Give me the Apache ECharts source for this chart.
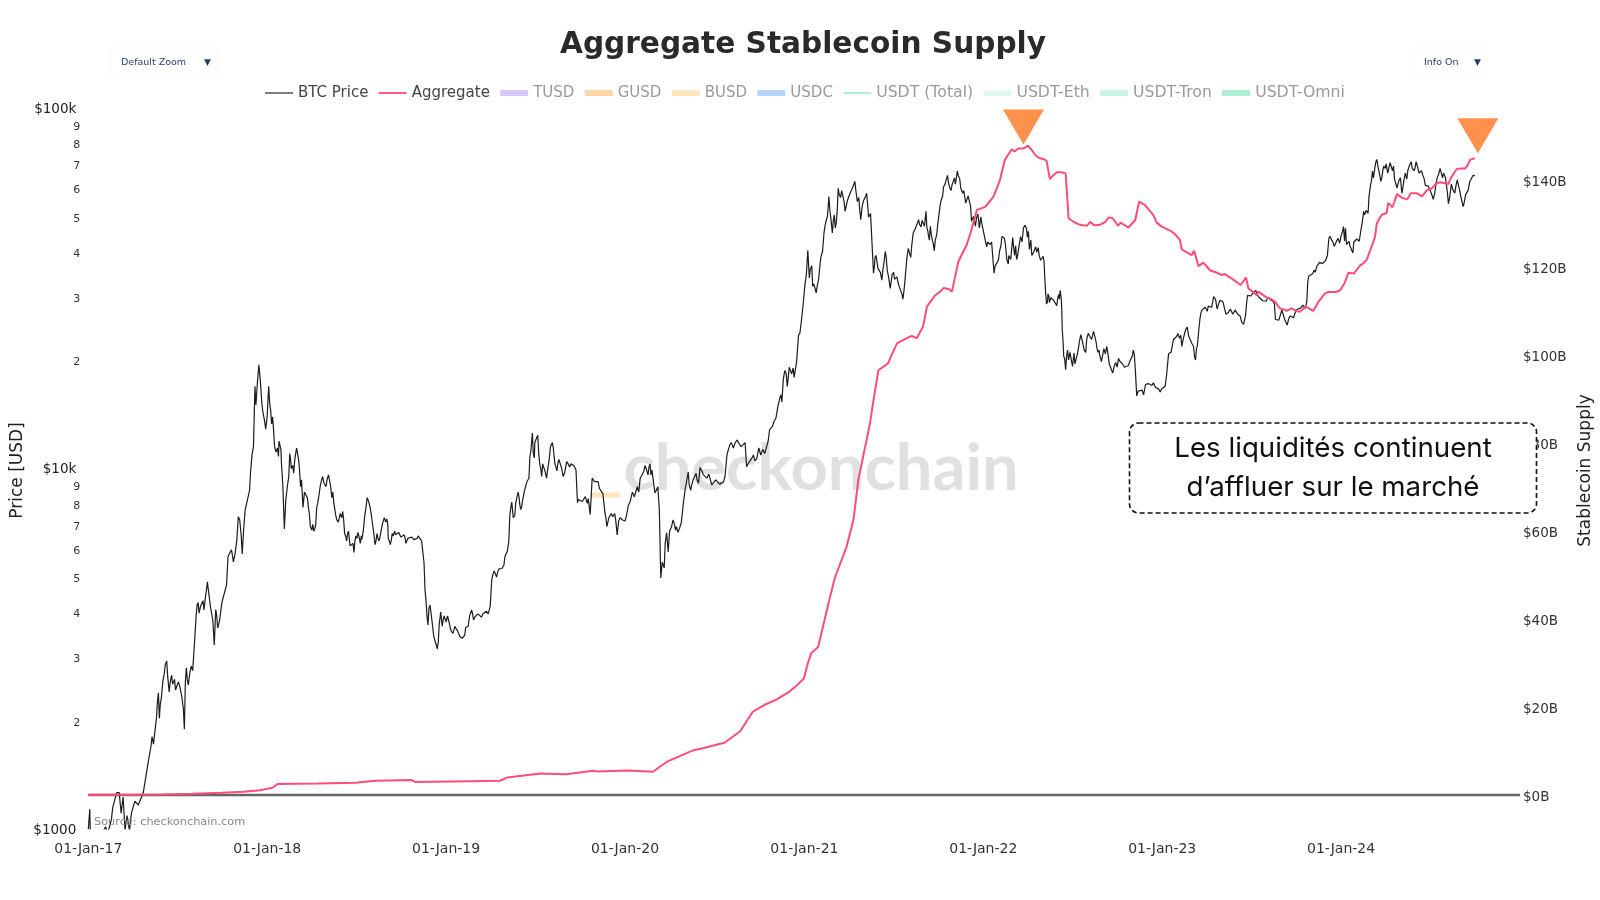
<!DOCTYPE html>
<html>
<head>
<meta charset="utf-8">
<title>Aggregate Stablecoin Supply</title>
<script src="https://cdn.jsdelivr.net/npm/echarts@6/dist/echarts.min.js"></script>
<style>
    html, body { margin: 0; padding: 0; background: #fff; }
    #chart { width: 1600px; height: 900px; }
</style>
</head>
<body>
<div id="chart"></div>
<script>
const startTime = Date.UTC(2017, 0, 1);
const endDay = 2921;

const xTickYears = [2017, 2018, 2019, 2020, 2021, 2022, 2023, 2024];
const priceTicks = [1000, 2000, 3000, 4000, 5000, 6000, 7000, 8000, 9000, 10000,
    20000, 30000, 40000, 50000, 60000, 70000, 80000, 90000, 100000];
const priceMajorLabels = { 1000: '$1000', 10000: '$10k', 100000: '$100k' };
const supplyTicks = [0, 20, 40, 60, 80, 100, 120, 140];

// [days since 01-Jan-17, USD]
const btcPoints = [
    [0,998],[3,1135],[4,990],[10,780],[24,890],[31,985],[35,1015],[39,985],[42,1000],[47,1060],[50,1150],[58,1262],[63,1262],[67,1107],[71,1227],[75,990],[79,1090],[84,990],[88,1107],[95,1195],[102,1165],[112,1258],
    [122,1525],[128,1700],[130,1805],[133,1720],[139,2030],[143,2385],[145,2030],[147,2235],[152,2560],[157,2850],[160,2925],[165,2400],[170,2670],[174,2490],[178,2430],[184,2560],[191,2320],[196,1890],[200,2800],[204,2510],[210,2830],
    [217,3340],[222,4180],[226,3970],[231,4180],[236,4050],[243,4850],[247,4380],[251,4200],[257,3240],[260,4060],[264,3610],[272,4200],[278,4350],[285,5700],[292,5950],[296,5510],[303,6320],[306,7350],[309,7200],[314,5790],[320,7670],[326,8090],[331,9780],[337,11500],[340,16900],[342,15000],[345,17300],[348,19400],[351,17500],[354,15200],[356,14400],[359,13700],[362,12860],
    [365,14000],[368,16900],[372,14500],[376,13900],[380,11500],[383,11100],[386,11400],[391,11600],[394,10400],[397,8900],[400,6800],[403,8200],[406,8900],[411,11000],[414,10000],[417,10200],[423,11000],[427,11400],[431,9900],[435,9300],[438,7800],[441,8600],[444,8700],[449,7800],[453,6900],[456,6750],[460,6700],[462,6800],[466,7800],[469,8100],[473,8900],[478,9500],[481,9100],[487,9300],[490,9600],[494,9000],[497,8300],[499,8600],[501,8000],[505,7400],[510,7100],[514,7500],[519,7600],[523,6600],[527,6300],[531,6700],[537,6050],[542,5850],[546,6500],[550,6650],[555,6200],[558,6350],[561,6700],[564,7400],[569,8300],[572,8100],[575,7800],[580,7000],[585,6150],[589,6600],[593,6300],[596,6400],[599,6900],[604,7300],[609,7250],[612,6400],[616,6150],[620,6600],[625,6700],[630,6500],[636,6600],[641,6500],[646,6450],[648,6200],[652,6400],[660,6450],[668,6430],[673,6500],[676,6450],[680,6300],[685,5470],[689,4300],[693,3680],[695,4100],[697,4180],[701,3800],[705,3410],[709,3270],[712,3160],[716,3700],[719,4000],[722,3650],[726,3900],
    [730,3750],[733,3900],[737,3950],[740,3550],[744,3490],[750,3600],[755,3500],[760,3400],[765,3350],[770,3620],[775,3650],[782,4050],[786,3800],[791,3850],[798,3900],[805,3950],[812,4020],[816,3950],[820,4150],[823,4900],[828,5200],[833,5000],[838,5270],[844,5280],[850,5700],[855,5900],[860,7400],[864,8070],[867,7300],[872,8000],[877,8600],[880,8000],[884,7800],[888,8200],[893,9000],[897,9100],[901,10800],[906,12550],[908,11000],[911,11800],[917,12360],[921,10300],[925,9500],[930,10400],[935,9400],[940,10500],[947,11800],[952,10300],[956,9850],[960,10600],[969,9500],[976,10450],[982,10100],[993,10050],[998,8040],[1003,8300],[1014,8360],[1024,7450],[1028,9400],[1033,9200],[1040,9200],[1047,8700],[1054,7540],[1058,6900],[1067,7500],[1076,7200],[1079,6540],[1085,7300],[1090,7200],
    [1095,7150],[1102,7920],[1107,8100],[1112,8700],[1116,8400],[1123,8600],[1130,9300],[1136,10200],[1140,9800],[1144,10100],[1148,9600],[1156,8560],[1162,8900],[1165,7680],[1168,4970],[1171,5500],[1175,5300],[1180,6630],[1183,5870],[1193,7200],[1198,6750],[1203,6650],[1210,7100],[1214,8000],[1218,8800],[1224,9780],[1229,8700],[1234,9300],[1240,9700],[1245,9100],[1248,10060],[1255,9600],[1262,9400],[1272,9000],[1280,9300],[1288,9050],[1296,9180],[1303,10900],[1309,11650],[1316,11400],[1324,12000],[1332,11500],[1340,11800],[1343,10120],[1350,10400],[1357,10900],[1364,10670],[1372,10900],[1384,11500],[1390,12800],[1396,13100],[1403,13800],[1411,15700],[1415,15300],[1421,18700],[1426,16900],[1430,19100],[1435,18300],[1440,17900],[1449,23400],[1456,26500],
    [1462,32300],[1468,40300],[1471,33800],[1476,36500],[1480,32500],[1485,30700],[1490,33500],[1495,38800],[1501,45000],[1505,48500],[1511,56800],[1515,49500],[1518,45000],[1522,50500],[1526,48000],[1530,59900],[1535,56500],[1540,58500],[1544,51700],[1549,55500],[1556,58800],[1564,62600],[1569,55000],[1572,56500],[1576,49000],[1582,55500],[1588,58000],[1592,49800],[1596,51000],[1599,42000],[1602,34800],[1605,38500],[1609,37600],[1613,35500],[1619,33300],[1623,36800],[1626,40000],[1630,35500],[1636,31600],[1640,34500],[1643,35000],[1648,33800],[1652,32800],[1657,31500],[1662,29500],[1666,33000],[1670,38200],[1673,40800],[1678,38500],[1683,45000],[1688,46500],[1694,49000],[1699,46800],[1704,48500],[1709,51700],[1711,46500],[1714,44300],[1718,47000],[1722,43000],[1726,40200],[1731,44500],[1735,48000],[1738,53800],[1743,57000],[1748,61500],[1753,65000],[1757,60500],[1760,59000],[1765,62800],[1769,61500],[1773,66800],[1778,63500],[1784,58000],[1788,57000],[1793,54800],[1798,57200],[1802,48500],[1806,50000],[1810,47000],[1815,50800],[1821,49900],[1826,47500],
    [1833,41200],[1838,43000],[1843,42500],[1848,34800],[1853,37000],[1857,37900],[1862,41500],[1867,43700],[1871,42000],[1877,36900],[1880,39500],[1884,38200],[1886,43700],[1890,39000],[1894,38000],[1899,41500],[1905,42500],[1914,46400],[1918,45500],[1923,43000],[1928,39600],[1933,41200],[1938,41000],[1943,37800],[1948,38800],[1951,34800],[1955,28600],[1958,30500],[1961,28900],[1964,29800],[1970,29200],[1976,28300],[1980,30400],[1983,31200],[1986,28000],[1989,22200],[1992,20200],[1994,18800],[1998,21300],[2003,21000],[2008,19200],[2013,19500],[2018,20800],[2022,22500],[2027,22900],[2032,21300],[2037,22800],[2043,23300],[2051,24000],[2056,22500],[2060,21000],[2064,20500],[2069,20000],[2078,21800],[2083,19500],[2090,18400],[2096,19700],[2105,19800],[2114,19100],[2122,19300],[2130,20500],[2134,20800],[2136,19000],[2139,15900],[2146,16600],[2153,16000],[2160,16900],[2166,17000],[2173,17300],[2180,16800],[2187,16300],
    [2197,16900],[2204,20800],[2209,21000],[2214,22800],[2220,23200],[2226,23000],[2231,21800],[2239,24300],[2245,23300],[2251,22300],[2259,20000],[2263,22000],[2266,24500],[2272,27500],[2276,27200],[2285,28200],[2292,28000],[2296,30000],[2300,29400],[2303,27700],[2309,29300],[2315,29000],[2319,27500],[2323,26800],[2330,27700],[2340,27500],[2350,26500],[2357,25100],[2361,26600],[2365,30200],[2375,30500],[2385,30300],[2391,29600],[2403,29100],[2412,29400],[2418,29000],[2422,25900],[2432,26000],[2438,27200],[2446,25000],[2452,26500],[2459,26200],[2466,27600],[2474,27900],[2483,27800],[2490,34200],[2498,34700],[2503,35000],[2507,36500],[2512,37300],[2518,37000],[2524,37700],[2528,39000],[2531,43400],[2535,43800],[2540,42200],[2545,41700],[2550,43500],[2556,44200],[2561,46900],[2565,46400],[2569,42000],[2574,41500],[2580,39600],[2585,42100],[2591,43000],[2596,45500],[2602,51700],[2607,52000],[2611,51000],[2616,61000],[2620,66800],[2625,68500],[2629,72000],[2633,68400],[2637,62600],[2641,67000],[2646,68000],[2651,66000],[2656,70500],[2661,67000],[2665,63500],[2668,64000],[2674,63000],[2680,58000],[2684,62800],[2687,66000],[2692,67000],[2697,70000],[2701,68000],[2705,67000],[2709,71000],[2713,69000],[2718,66500],[2723,65000],[2728,61000],[2734,60700],[2740,58000],[2744,55800],[2750,62000],[2755,65500],[2761,67200],[2765,66000],[2769,64000],[2773,58000],[2775,54300],[2779,58500],[2783,60000],[2788,58000],[2793,63200],[2798,59000],[2802,57500],[2805,53300],[2810,57500],[2815,59000],[2820,63000],[2825,65000],[2829,64900]
];

// second pass over the picture: the smaller wiggles between the swings above
const btcDetailPoints = [
    [141,2250],[149,2300],[155,2700],[162,2650],[167,2550],[172,2520],[176,2600],[181,2500],[187,2470],[194,2150],[198,2550],[202,2600],[207,2700],[213,2750],[220,3900],[224,4250],[229,4150],[234,4300],[239,4400],[241,4600],[245,4600],[249,4150],[254,3800],[262,3900],[268,3800],[275,4380],[282,4750],[288,5650],[294,5750],[299,5750],[312,6500],[317,6800],[323,8000],[329,8700],[334,10900],
    [370,15200],[374,13300],[378,12800],[388,10800],[389,11900],[393,11300],[409,9500],[413,10500],[419,9700],[421,10500],[425,11400],[429,10600],[433,8900],[447,8300],[451,7500],[458,7000],[464,7000],[468,8000],[471,8500],[476,9300],[483,9200],[485,8900],[492,9700],[503,8100],[507,7200],[512,7300],[517,7300],[521,7200],[525,6500],[529,6600],[534,6100],[540,6200],[544,6300],[548,6400],[552,6500],[557,6500],[566,7700],[571,8200],[577,7500],[582,6700],[587,6300],[591,6400],[595,6450],[601,7100],[607,7100],[611,7000],[614,6300],[618,6300],[622,6500],[627,6550],[633,6650],[638,6450],[644,6550],[650,6300],[656,6400],[664,6350],[671,6400],[687,4600],[691,3900],[699,4000],[703,3600],[707,3400],[714,3300],[724,3800],
    [748,3650],[753,3550],[758,3420],[763,3380],[768,3450],[778,3900],[784,3950],[789,3880],[795,3950],[802,3870],[809,4000],[825,5050],[830,5250],[835,5150],[842,5300],[848,5400],[853,5750],[858,6300],[862,7800],[870,7400],[875,8400],[879,8300],[882,7700],[886,8150],[890,8700],[895,9200],[899,9400],[903,11200],[910,10700],[913,12000],[919,11000],[923,10000],[927,10300],[932,9800],[938,10100],[943,11500],[949,11300],[954,10100],[958,10300],[965,10100],[972,9750],[979,10300],[985,10300],[990,10200],[995,9900],[1000,8200],[1008,8100],[1018,8000],[1020,8250],[1031,9500],[1036,9150],[1043,8800],[1050,8500],[1056,7300],[1062,7300],[1070,7350],[1074,7500],[1082,7150],[1088,7350],
    [1098,7400],[1105,8050],[1110,8600],[1114,8350],[1120,8900],[1126,9400],[1133,9800],[1138,10000],[1142,9600],[1146,10300],[1150,9900],[1153,9200],[1159,8700],[1177,6200],[1186,6700],[1190,6900],[1196,7000],[1200,6900],[1206,6800],[1220,9100],[1226,9000],[1231,9000],[1237,9500],[1242,9300],[1247,9700],[1251,9900],[1258,9500],[1266,9650],[1276,9150],[1284,9250],[1292,9150],[1299,9500],[1306,11300],[1312,11800],[1320,11800],[1328,11700],[1336,11400],[1346,10300],[1354,10700],[1360,10500],[1368,11400],[1376,11300],[1380,11000],[1387,11900],[1393,12900],[1399,13500],[1407,14900],[1413,16000],[1418,17700],[1424,18300],[1428,17800],[1433,18900],[1438,19000],[1445,19700],[1452,23800],[1459,29000],
    [1465,34500],[1473,35700],[1478,32000],[1483,31500],[1487,32000],[1493,37000],[1498,40000],[1503,47000],[1508,50000],[1513,52000],[1520,48800],[1524,46500],[1528,52000],[1532,57500],[1537,59000],[1542,55000],[1547,54000],[1552,57000],[1559,60000],[1566,59000],[1574,52000],[1579,53500],[1585,56500],[1590,54000],[1594,50000],[1604,36500],[1607,39000],[1611,35900],[1616,35000],[1621,35500],[1628,38500],[1633,33800],[1638,33000],[1645,33500],[1650,34000],[1655,31800],[1660,30500],[1664,31000],[1668,35500],[1675,39800],[1680,41500],[1686,44500],[1691,46500],[1696,47500],[1701,48800],[1706,47000],[1713,45500],[1716,43000],[1720,44500],[1724,42000],[1728,43000],[1733,47500],[1740,55500],[1745,60500],[1750,63000],[1755,62000],[1762,61000],[1767,64000],[1771,64000],[1775,65000],[1780,60000],[1786,59000],[1790,54500],[1795,57000],[1800,53500],[1804,49000],[1808,48500],[1812,49500],[1818,46500],[1823,47800],
    [1830,43000],[1835,42500],[1840,41800],[1846,37500],[1850,36500],[1855,36800],[1859,40000],[1864,44000],[1869,43500],[1874,38000],[1878,39000],[1882,38000],[1888,41000],[1892,41500],[1896,39000],[1902,44000],[1908,46500],[1911,47300],[1916,43800],[1920,40500],[1925,39000],[1930,40000],[1935,39800],[1940,39000],[1945,38000],[1950,37500],[1953,31000],[1957,29000],[1960,30000],[1967,30000],[1973,29500],[1978,29800],[1981,29500],[1985,29500],[1987,24500],[1990,20500],[1996,20500],[2000,20000],[2005,20200],[2011,20900],[2016,20300],[2020,21500],[2025,23500],[2030,22800],[2035,21000],[2040,23700],[2047,22800],[2053,24100],[2058,21500],[2062,21300],[2067,19800],[2072,21500],[2075,20800],[2080,21000],[2086,19300],[2093,19200],[2099,19100],[2102,20200],[2110,19500],[2118,19000],[2126,20000],[2132,21300],[2142,16400],[2150,16500],[2157,17100],[2163,17200],[2170,17000],[2177,16800],[2184,16600],[2190,16650],
    [2200,18200],[2206,20900],[2212,21000],[2217,23000],[2223,23700],[2229,23400],[2234,22900],[2237,23800],[2242,24700],[2248,23500],[2255,21800],[2257,20400],[2261,21500],[2268,26000],[2270,27000],[2274,27800],[2279,28000],[2283,27300],[2288,28400],[2294,28300],[2298,30300],[2305,28300],[2312,29200],[2317,28800],[2321,26800],[2326,27100],[2335,26800],[2345,26800],[2353,25500],[2359,25800],[2363,28500],[2368,30400],[2372,30100],[2378,30600],[2382,31200],[2388,29900],[2396,29200],[2400,29300],[2407,29800],[2415,29100],[2420,28600],[2425,26100],[2429,25800],[2435,27500],[2441,25900],[2444,25700],[2449,26000],[2455,26600],[2462,27000],[2470,27600],[2478,28400],[2486,29000],[2488,33000],[2494,34300],[2501,35500],[2505,35100],[2510,36900],[2515,37500],[2521,37200],[2526,37800],[2533,44100],[2537,43000],[2542,41300],[2547,42800],[2553,42200],[2558,45000],[2563,42800],
    [2567,41800],[2572,42700],[2577,41000],[2582,42500],[2588,43300],[2593,42700],[2599,48000],[2604,50500],[2609,52000],[2613,57000],[2618,63000],[2622,64000],[2627,71000],[2631,69000],[2635,65000],[2639,64000],[2643,69000],[2648,70000],[2653,66500],[2658,71000],[2663,69000],[2670,60000],[2677,64000],[2682,60000],[2690,63500],[2695,69000],[2699,71000],[2703,67500],[2707,68300],[2711,69500],[2715,66000],[2720,67000],[2725,64000],[2731,61500],[2737,60000],[2742,57000],[2747,58000],[2752,64000],[2758,68000],[2763,64000],[2767,65500],[2771,61000],[2777,56000],[2781,61500],[2785,59000],[2790,60500],[2796,60500],[2800,57000],[2807,54500],[2812,58000],[2818,62000],[2822,63500],[2827,65500]
];

// [days since 01-Jan-17, USD billions]
const aggregatePoints = [
    [0,0.05],[90,0.06],[150,0.12],[212,0.3],[273,0.5],[316,0.75],[346,1.0],[376,1.66],[386,2.5],[467,2.6],[545,2.8],[586,3.25],[660,3.4],[667,2.96],[745,3.1],[840,3.25],[855,4.0],[923,4.9],[975,4.7],[1030,5.5],[1038,5.35],[1100,5.6],[1152,5.3],[1168,6.6],[1183,7.7],[1235,10.2],[1256,10.7],[1287,11.6],[1298,11.9],[1330,14.5],[1356,19],[1381,20.6],[1402,21.6],[1430,23.5],[1444,24.8],[1460,26.5],[1468,30],[1475,32.3],[1489,33.7],[1511,44],[1523,49.4],[1547,56.5],[1561,62.6],[1571,71.7],[1585,79.3],[1595,84.7],[1602,89.9],[1612,96.7],[1632,98.3],[1639,100.2],[1650,102.8],[1656,103.2],[1670,104],[1680,104.5],[1690,104],[1703,106.6],[1711,111.2],[1728,113.8],[1737,114.5],[1745,115.4],[1755,115.2],[1762,114.6],[1775,121.4],[1782,123],[1792,125.2],[1800,128],[1813,133.2],[1830,133.9],[1838,135],[1847,136.2],[1860,140],[1870,144.6],[1884,147],[1890,146.5],[1897,147.2],[1908,147.2],[1917,147.8],[1925,146.8],[1932,145.7],[1940,145],[1948,144.8],[1955,144.4],[1962,140.2],[1968,141],[1976,141.8],[1985,141.8],[1994,141.5],[2000,131.3],[2010,130.5],[2023,129.8],[2030,129.7],[2038,129.6],[2044,130.5],[2052,129.7],[2064,129.8],[2075,130.5],[2082,131.5],[2090,131.3],[2101,129.6],[2106,130.3],[2122,129.2],[2136,130.9],[2144,135.1],[2156,134.3],[2173,132],[2180,130.3],[2190,129.4],[2207,128.5],[2216,127.8],[2227,126.4],[2231,124.2],[2245,123.3],[2251,122.9],[2256,123.9],[2265,120.4],[2275,121.2],[2289,119.4],[2300,119],[2312,118.4],[2319,118.6],[2330,117.8],[2340,117],[2351,116.1],[2362,117.8],[2367,115.3],[2384,113.8],[2387,114.6],[2402,113.4],[2412,113],[2421,112.3],[2431,110.8],[2440,110.5],[2445,110.2],[2455,110.8],[2465,110.2],[2472,110],[2484,111.2],[2499,110.2],[2510,112.3],[2523,114.2],[2530,114.5],[2545,114.5],[2554,114.9],[2563,116.5],[2571,118.9],[2582,118.7],[2595,120.6],[2600,120.9],[2608,121.8],[2618,124.8],[2625,127],[2629,130.2],[2639,132.1],[2649,132.5],[2652,134.8],[2661,133.8],[2670,136.8],[2680,136],[2691,135.6],[2698,137],[2710,137],[2721,136.3],[2731,137.7],[2740,138],[2750,139.2],[2758,139.5],[2775,139.1],[2780,140.5],[2792,142.5],[2800,142.6],[2809,142.6],[2815,143.5],[2819,144.6],[2829,145]
];

const busdPoints = [[1024,68.3],[1085,68.3]];
const zeroLinePoints = [[0,0],[endDay,0]];
// the triangles sit just above the two Aggregate highs
const highMarkers = [[1908,152.1],[2835,150.1]];

// only listed in the legend, switched off in the reference
const legendOnlySeries = [
    { name: 'TUSD', color: '#d6c9fb', icon: 'thick' },
    { name: 'GUSD', color: '#fdd5a6', icon: 'thick' },
    { name: 'USDC', color: '#b5d5ff', icon: 'thick' },
    { name: 'USDT (Total)', color: '#a9f0d7', icon: 'thin' },
    { name: 'USDT-Eth', color: '#e1f9f0', icon: 'thick' },
    { name: 'USDT-Tron', color: '#c7f5e3', icon: 'thick' },
    { name: 'USDT-Omni', color: '#aeeed5', icon: 'thick' }
];
const legendOrder = ['BTC Price', 'Aggregate', 'TUSD', 'GUSD', 'BUSD', 'USDC', 'USDT (Total)', 'USDT-Eth', 'USDT-Tron', 'USDT-Omni'];
const legendIcons = {
    hair: 'path://M0,0H28V1.5H0Z',
    thin: 'path://M0,0H28V2H0Z',
    thick: 'path://M0,0H28V6H0Z'
};
const legendIconOf = name => {
    if (name === 'BTC Price') {
        return legendIcons.hair;
    }
    if (name === 'Aggregate') {
        return legendIcons.thin;
    }
    const item = legendOnlySeries.find(s => s.name === name);
    return item ? legendIcons[item.icon] : legendIcons.thick;
};

const axisFont = 'DejaVu Sans';
const toTime = points => points.map(p => [startTime + p[0] * 864e5, p[1]]);
const btcAllPoints = btcPoints.concat(btcDetailPoints).sort((a, b) => a[0] - b[0]);

function dropdown(left, width, textLeft, arrowLeft, label) {
    return [
        { type: 'rect', z: 5, shape: { x: left, y: 48, width: width, height: 30 },
            style: { fill: '#fff', stroke: '#f9f9f9', lineWidth: 1 } },
        { type: 'text', z: 6, x: textLeft, y: 63,
            style: { text: label, fill: '#2a3f5f', font: '9.5px ' + axisFont, textVerticalAlign: 'middle' } },
        { type: 'text', z: 6, x: arrowLeft, y: 63,
            style: { text: '▼', fill: '#2a3f5f', font: '9px ' + axisFont, textVerticalAlign: 'middle' } }
    ];
}

const chart = echarts.init(document.getElementById('chart'));

chart.setOption({
    useUTC: true,
    animation: false,
    backgroundColor: '#fff',
    title: {
        text: 'Aggregate Stablecoin Supply',
        left: 798,
        top: 25,
        textAlign: 'center',
        textStyle: { fontFamily: axisFont, fontWeight: 'bold', fontSize: 29.6, color: '#2a2a2a' }
    },
    legend: {
        left: 260,
        top: 80,
        itemWidth: 28,
        itemHeight: 16,
        itemGap: 10.3,
        selectedMode: false,
        textStyle: { fontFamily: axisFont, fontSize: 15, color: '#9a9a9a' },
        data: legendOrder.map(name => ({
            name: name,
            icon: legendIconOf(name),
            textStyle: {
                color: name === 'BTC Price' || name === 'Aggregate' ? '#444' : '#9a9a9a',
                fontSize: name.startsWith('USDT') ? 15.7 : 15
            }
        }))
    },
    grid: { left: 88.3, right: 80, top: 108, bottom: 71, outerBoundsMode: 'none' },
    xAxis: {
        // value axis of timestamps: time axes crash on customValues
        type: 'value',
        min: startTime,
        max: startTime + endDay * 864e5,
        axisLine: { show: false },
        axisTick: { show: false },
        splitLine: { show: false },
        axisLabel: {
            margin: 13,
            fontFamily: axisFont,
            fontSize: 14,
            color: '#333',
            customValues: xTickYears.map(y => Date.UTC(y, 0, 1)),
            formatter: v => echarts.time.format(v, '{dd}-{MMM}-{yy}', true)
        }
    },
    yAxis: [{
        type: 'log',
        logBase: 10,
        min: 1000,
        max: 100000,
        name: 'Price [USD]',
        nameLocation: 'middle',
        nameGap: 62,
        nameMoveOverlap: false,
        nameTextStyle: { fontFamily: axisFont, fontSize: 17, color: '#222', padding: [0, 4, 0, 0] },
        axisLine: { show: false },
        axisTick: { show: false },
        splitLine: { show: false },
        minorTick: { show: false },
        axisLabel: {
            margin: 8,
            fontFamily: axisFont,
            customValues: priceTicks,
            formatter: v => {
                const major = priceMajorLabels[Math.round(v)];
                if (major) {
                    return '{major|' + major + '}';
                }
                return '{minor|' + String(Math.round(v)).charAt(0) + '}';
            },
            rich: {
                major: { fontFamily: axisFont, fontSize: 13.5, color: '#222', padding: [2, 4, 0, 0] },
                minor: { fontFamily: axisFont, fontSize: 11, color: '#333', padding: [5, 0, 0, 0] }
            }
        }
    }, {
        type: 'value',
        min: -7.74,
        max: 156.4,
        position: 'right',
        name: 'Stablecoin Supply',
        nameLocation: 'middle',
        nameRotate: 90,
        nameGap: 57,
        nameTextStyle: { fontFamily: axisFont, fontSize: 17, color: '#222', padding: [0, 4, 0, 0] },
        axisLine: { show: false },
        axisTick: { show: false },
        splitLine: { show: false },
        axisLabel: {
            margin: 3,
            customValues: supplyTicks,
            formatter: v => '{supply|$' + v + 'B}',
            rich: {
                supply: { fontFamily: axisFont, fontSize: 13.5, color: '#333', padding: [4, 0, 0, 0] }
            }
        }
    }],
    series: [{
        name: 'zero',
        type: 'line',
        yAxisIndex: 1,
        z: 1,
        data: toTime(zeroLinePoints),
        symbol: 'none',
        silent: true,
        lineStyle: { color: '#666', width: 2.5 }
    }, {
        name: 'BTC Price',
        type: 'line',
        yAxisIndex: 0,
        z: 3,
        color: '#555',
        data: toTime(btcAllPoints),
        symbol: 'none',
        lineStyle: { color: '#1c1c1c', width: 1.2 }
    }, {
        name: 'Aggregate',
        type: 'line',
        yAxisIndex: 1,
        z: 4,
        color: '#ff5a82',
        data: toTime(aggregatePoints),
        symbol: 'none',
        lineStyle: { color: '#ff4d78', width: 2 },
        markPoint: {
            symbol: 'triangle',
            symbolRotate: 180,
            symbolSize: [41, 35],
            silent: true,
            label: { show: false },
            itemStyle: { color: '#ff914d' },
            data: toTime(highMarkers).map(p => ({ coord: p }))
        }
    }, {
        name: 'BUSD',
        type: 'line',
        yAxisIndex: 1,
        z: 2,
        color: '#fde6bd',
        data: toTime(busdPoints),
        symbol: 'none',
        lineStyle: { color: '#fde6bd', width: 5, cap: 'butt' }
    }].concat(legendOnlySeries.map(s => ({
        name: s.name,
        type: 'line',
        yAxisIndex: 1,
        color: s.color,
        data: [],
        symbol: 'none',
        lineStyle: { color: s.color }
    }))),
    graphic: {
        elements: [
            { type: 'text', z: 0, x: 821, y: 469,
                style: { text: 'checkonchain', fill: '#e0e0e0', font: 'bold 65px Lato',
                    textAlign: 'center', textVerticalAlign: 'middle' } },
            { type: 'text', z: 5, x: 94, y: 822,
                style: { text: 'Source: checkonchain.com', fill: '#888', font: '11.3px ' + axisFont,
                    textVerticalAlign: 'middle' } },
            { type: 'rect', z: 100,
                shape: { x: 1129.5, y: 423, width: 407, height: 90, r: 9 },
                style: { fill: '#fff', stroke: '#111', lineWidth: 1.6, lineDash: [5, 3] } },
            { type: 'text', z: 101, x: 1333, y: 449,
                style: { text: 'Les liquidités continuent', fill: '#111', font: '27.7px Inter',
                    textAlign: 'center', textVerticalAlign: 'middle' } },
            { type: 'text', z: 101, x: 1333, y: 488,
                style: { text: 'd’affluer sur le marché', fill: '#111', font: '27.7px Inter',
                    textAlign: 'center', textVerticalAlign: 'middle' } }
        ].concat(
            dropdown(111, 106, 121, 204, 'Default Zoom'),
            dropdown(1413, 73, 1424, 1474, 'Info On')
        )
    }
});
</script>
</body>
</html>
